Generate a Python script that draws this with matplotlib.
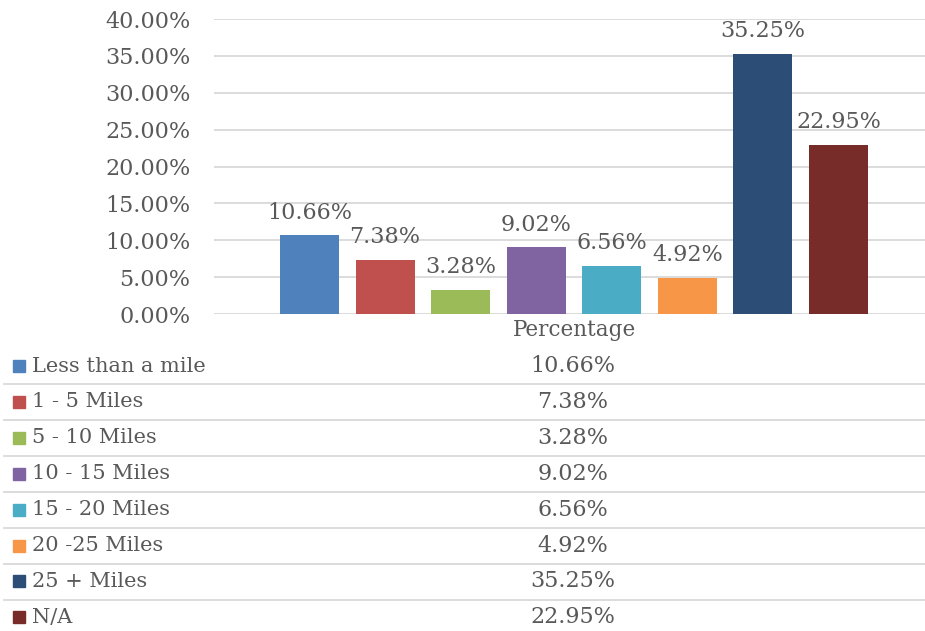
import matplotlib.pyplot as plt
from matplotlib.ticker import FuncFormatter

# distance travelled, share of respondents
categories = ['Less than a mile', '1 - 5 Miles', '5 - 10 Miles', '10 - 15 Miles',
              '15 - 20 Miles', '20 -25 Miles', '25 + Miles', 'N/A']
percentages = [10.66, 7.38, 3.28, 9.02, 6.56, 4.92, 35.25, 22.95]
colors = ['#4f81bd', '#c0504d', '#9bbb59', '#8064a2',
          '#4bacc6', '#f79646', '#2c4d75', '#772c2a']
series_name = 'Percentage'

text_color = '#595959'
grid_color = '#d9d9d9'
plt.rcParams['font.family'] = ['DejaVu Serif']

W, H = 925, 631
fig = plt.figure(figsize=(W / 100, H / 100), dpi=100)

# column chart
ax = fig.add_axes([214 / W, 1 - 314 / H, (W - 214) / W, (314 - 19) / H])
pitch = 75.57
xs = list(range(len(percentages)))
ax.bar(xs, percentages, width=59 / pitch, color=colors, zorder=3)
for x, v in zip(xs, percentages):
    ax.annotate('%.2f%%' % v, (x, v), xytext=(0, 12), textcoords='offset points',
                ha='center', va='baseline', fontsize=16, color=text_color)

ax.set_ylim(0, 40)
ax.set_xlim((214 - 309.5) / pitch, (925 - 309.5) / pitch)
ax.set_yticks(range(0, 41, 5))
ax.yaxis.set_major_formatter(FuncFormatter(lambda v, p: '%.2f%%' % v))
ax.tick_params(axis='y', length=0, pad=17, labelsize=16, labelcolor=text_color)
ax.set_xticks([])
ax.grid(axis='y', color=grid_color, linewidth=1.3, zorder=0)
for s in ax.spines.values():
    s.set_visible(False)

# data table under the chart
tab = fig.add_axes([0, 0, 1, (H - 318) / H])
tab.set_xlim(0, W)
tab.set_ylim(H, 318)
tab.axis('off')
tab.text(574, 330, series_name, ha='center', va='center', fontsize=15.5, color=text_color)
row_h = 35.9
for i, (cat, v, c) in enumerate(zip(categories, percentages, colors)):
    yc = 366 + i * row_h
    tab.add_patch(plt.Rectangle((13, yc - 6), 12, 12, color=c))
    tab.text(32, yc, cat, ha='left', va='center', fontsize=15, color=text_color)
    tab.text(573, yc, '%.2f%%' % v, ha='center', va='center', fontsize=16, color=text_color)
    if i < len(categories) - 1:
        tab.plot([4, W], [yc + 18.3, yc + 18.3], color=grid_color, linewidth=1.3)

fig.savefig('out.png', dpi=100, facecolor='white')
